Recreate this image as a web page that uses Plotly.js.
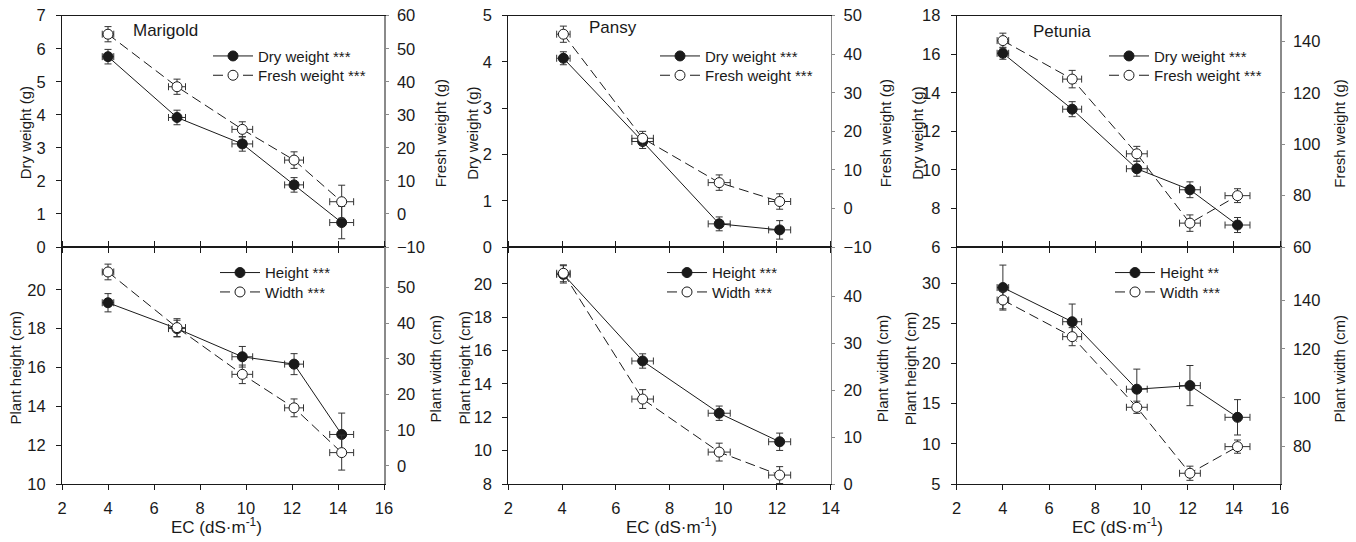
<!DOCTYPE html>
<html><head><meta charset="utf-8">
<script src="https://cdn.plot.ly/plotly-3.0.1.min.js"></script>
<style>html,body{margin:0;padding:0;background:#fff}#chart{width:1356px;height:542px}</style>
</head><body><div id="chart"></div>
<script>
// ---------- DATA ----------
const species = ['Marigold', 'Pansy', 'Petunia'];

const ecMarigold      = [4.0, 7.0, 9.84, 12.09, 14.16];
const ecMarigoldErr   = [0.25, 0.37, 0.45, 0.41, 0.52];
const dryMarigold     = [5.76, 3.92, 3.12, 1.88, 0.74];
const dryMarigoldErr  = [0.22, 0.22, 0.22, 0.22, 0.49];
const freshMarigold   = [54.4, 38.5, 25.6, 16.3, 3.7];
const freshMarigoldErr= [2.3, 2.3, 2.3, 2.5, 5.0];
const heightMarigold  = [19.33, 18.0, 16.55, 16.17, 12.55];
const heightMarigoldErr=[0.47, 0.43, 0.53, 0.54, 1.1];
const widthMarigold   = [54.4, 38.8, 25.7, 16.3, 3.75];
const widthMarigoldErr= [2.2, 2.5, 2.6, 2.5, 4.9];

const ecPansy         = [4.05, 7.0, 9.85, 12.1];
const ecPansyErr      = [0.25, 0.40, 0.41, 0.41];
const dryPansy        = [4.08, 2.28, 0.50, 0.37];
const dryPansyErr     = [0.14, 0.15, 0.15, 0.20];
const freshPansy      = [45.2, 18.2, 6.7, 1.8];
const freshPansyErr   = [2.1, 1.8, 2.0, 2.0];
const heightPansy     = [20.56, 15.37, 12.24, 10.53];
const heightPansyErr  = [0.52, 0.43, 0.43, 0.52];
const widthPansy      = [44.9, 18.1, 6.8, 1.9];
const widthPansyErr   = [1.8, 2.0, 1.9, 1.8];

const ecPetunia       = [4.0, 7.0, 9.8, 12.1, 14.16];
const ecPetuniaErr    = [0.25, 0.41, 0.45, 0.45, 0.54];
const dryPetunia      = [16.05, 13.15, 10.06, 8.97, 7.14];
const dryPetuniaErr   = [0.31, 0.39, 0.39, 0.41, 0.39];
const freshPetunia    = [140.4, 125.4, 96.3, 69.3, 80.0];
const freshPetuniaErr = [2.9, 3.4, 2.9, 3.2, 2.7];
const heightPetunia   = [29.45, 25.2, 16.8, 17.25, 13.3];
const heightPetuniaErr= [2.8, 2.2, 2.5, 2.5, 2.2];
const widthPetunia    = [140.0, 125.0, 96.1, 69.1, 80.0];
const widthPetuniaErr = [3.6, 3.7, 2.5, 2.9, 2.7];

const legendTop    = ['Dry weight ***', 'Fresh weight ***'];
const legendBottom = [['Height ***', 'Width ***'], ['Height ***', 'Width ***'], ['Height **', 'Width ***']];

const xTicks = [2, 4, 6, 8, 10, 12, 14, 16];
const xTicksPansy = [2, 4, 6, 8, 10, 12, 14];
const tickDryMarigold    = [0, 1, 2, 3, 4, 5, 6, 7];
const tickFreshMarigold  = [-10, 0, 10, 20, 30, 40, 50, 60];
const tickHeightMarigold = [10, 12, 14, 16, 18, 20];
const tickWidthMarigold  = [0, 10, 20, 30, 40, 50];
const tickDryPansy       = [0, 1, 2, 3, 4, 5];
const tickFreshPansy     = [-10, 0, 10, 20, 30, 40, 50];
const tickHeightPansy    = [8, 10, 12, 14, 16, 18, 20];
const tickWidthPansy     = [0, 10, 20, 30, 40];
const tickDryPetunia     = [6, 8, 10, 12, 14, 16, 18];
const tickFreshPetunia   = [60, 80, 100, 120, 140];
const tickHeightPetunia  = [5, 10, 15, 20, 25, 30];
const tickWidthPetunia   = [80, 100, 120, 140];

// ---------- LAYOUT HELPERS ----------
const W = 1356, H = 542;
const px = v => v / W;
const py = v => 1 - v / H;
const FONT = 'Liberation Sans, Arial, sans-serif';
const INK = '#1a1a1a';
const TICK_SIZE = 16.5;

const geo = [
  {l: 62,    r: 384,   xr: [2, 16], xt: xTicks,
   top: {yl: [0, 7], yr: [-10, 60], tl: tickDryMarigold, tr: tickFreshMarigold},
   bot: {yl: [10, 22.2], yr: [-5.05, 61.4], tl: tickHeightMarigold, tr: tickWidthMarigold},
   ttl: {lt: 25, rt: 440, lb: 15, rb: 435}, ecx: 216,
   lab: {x: 131, y: 30}, legT: 208, legB: 215},
  {l: 508.3, r: 830.7, xr: [2, 14], xt: xTicksPansy,
   top: {yl: [0, 5], yr: [-10, 50], tl: tickDryPansy, tr: tickFreshPansy},
   bot: {yl: [8, 22.2], yr: [0, 50.5], tl: tickHeightPansy, tr: tickWidthPansy},
   ttl: {lt: 472.5, rt: 885, lb: 464, rb: 882.7}, ecx: 671,
   lab: {x: 587, y: 28}, legT: 655, legB: 662},
  {l: 956.7, r: 1280,  xr: [2, 16], xt: xTicks,
   top: {yl: [6, 18], yr: [60, 150.1], tl: tickDryPetunia, tr: tickFreshPetunia},
   bot: {yl: [5, 34.5], yr: [64.7, 161.7], tl: tickHeightPetunia, tr: tickWidthPetunia},
   ttl: {lt: 917.3, rt: 1339.3, lb: 910.7, rb: 1339}, ecx: 1117,
   lab: {x: 1031, y: 32}, legT: 1104, legB: 1110}
];
const Y_TOP = 15.7, Y_MID = 247, Y_BOT = 484;
const LEG_ROWS_TOP = [56.7, 76];
const LEG_ROWS_BOT = [273.3, 292.7];
const LEG_OFFSET = 17;   // legend top -> row centre

const seriesData = [
  {x: ecMarigold, xe: ecMarigoldErr,
   a: [dryMarigold, dryMarigoldErr], b: [freshMarigold, freshMarigoldErr],
   c: [heightMarigold, heightMarigoldErr], d: [widthMarigold, widthMarigoldErr]},
  {x: ecPansy, xe: ecPansyErr,
   a: [dryPansy, dryPansyErr], b: [freshPansy, freshPansyErr],
   c: [heightPansy, heightPansyErr], d: [widthPansy, widthPansyErr]},
  {x: ecPetunia, xe: ecPetuniaErr,
   a: [dryPetunia, dryPetuniaErr], b: [freshPetunia, freshPetuniaErr],
   c: [heightPetunia, heightPetuniaErr], d: [widthPetunia, widthPetuniaErr]}
];

const traces = [];
const layout = {
  width: W, height: H, margin: {l: 0, r: 0, t: 0, b: 0},
  paper_bgcolor: '#fff', plot_bgcolor: 'rgba(0,0,0,0)',
  font: {family: FONT, size: 15, color: INK},
  annotations: [], showlegend: true
};

function mkTrace(xv, xe, yv, ye, xa, ya, name, filled, legendId) {
  return {
    type: 'scatter', mode: 'lines+markers', x: xv, y: yv, xaxis: xa, yaxis: ya,
    name: name, legend: legendId, showlegend: true,
    line: {color: INK, width: 1, dash: filled ? 'solid' : '10px,5px'},
    marker: {size: 10, color: filled ? INK : '#fff', line: {color: INK, width: 1}},
    error_x: {type: 'data', array: xe, visible: true, color: '#333', thickness: 1, width: 3.5},
    error_y: {type: 'data', array: ye, visible: true, color: '#333', thickness: 1, width: 3.5},
    cliponaxis: false
  };
}

function yAxis(range, tickvals, domain, anchor, right, overlay) {
  const ax = {
    range: range, domain: domain, anchor: anchor, tickvals: tickvals,
    showline: true, linecolor: right ? '#8a8a8a' : INK, linewidth: right ? 1.6 : 1,
    ticks: 'outside', ticklen: right ? 3 : 5, tickcolor: right ? '#8a8a8a' : INK, tickwidth: 1,
    showgrid: false, zeroline: false, automargin: false, fixedrange: true,
    tickfont: {family: FONT, size: TICK_SIZE, color: INK}, ticklabelstandoff: right ? 5 : 7
  };
  if (right) { ax.side = 'right'; ax.overlaying = overlay; }
  return ax;
}

let legCount = 0;
function mkLegend(xpx, rowpx) {
  legCount++;
  const id = legCount === 1 ? 'legend' : 'legend' + legCount;
  layout[id] = {
    x: px(xpx), y: py(rowpx - LEG_OFFSET), xanchor: 'left', yanchor: 'top',
    bgcolor: 'rgba(0,0,0,0)', borderwidth: 0, itemwidth: 40,
    font: {family: FONT, size: 15, color: INK}
  };
  return id;
}

geo.forEach((g, p) => {
  const sd = seriesData[p];
  const xdom = [px(g.l), px(g.r)];
  for (let row = 0; row < 2; row++) {
    const k = 2 * p + row;               // subplot index 0..5
    const xid = k === 0 ? 'x' : 'x' + (k + 1);
    const xkey = k === 0 ? 'xaxis' : 'xaxis' + (k + 1);
    const ylid = k === 0 ? 'y' : 'y' + (2 * k + 1);
    const ylkey = k === 0 ? 'yaxis' : 'yaxis' + (2 * k + 1);
    const yrid = 'y' + (2 * k + 2);
    const yrkey = 'yaxis' + (2 * k + 2);
    const ydom = row === 0 ? [py(Y_MID), py(Y_TOP)] : [py(Y_BOT), py(Y_MID)];
    const cfg = row === 0 ? g.top : g.bot;

    layout[xkey] = {
      range: g.xr, domain: xdom, anchor: ylid, tickvals: g.xt,
      showline: true, linecolor: INK, linewidth: 1,
      mirror: row === 0 ? true : 'ticks',
      ticks: 'outside', ticklen: 5, tickcolor: INK, tickwidth: 1,
      showticklabels: row === 1, showgrid: false, zeroline: false,
      automargin: false, fixedrange: true,
      tickfont: {family: FONT, size: TICK_SIZE, color: INK}, ticklabelstandoff: 4
    };
    layout[ylkey] = yAxis(cfg.yl, cfg.tl, ydom, xid, false);
    layout[yrkey] = yAxis(cfg.yr, cfg.tr, ydom, xid, true, ylid);

    const names = row === 0 ? legendTop : legendBottom[p];
    const s1 = row === 0 ? sd.a : sd.c;
    const s2 = row === 0 ? sd.b : sd.d;
    const rows = row === 0 ? LEG_ROWS_TOP : LEG_ROWS_BOT;
    const lx = row === 0 ? g.legT : g.legB;
    traces.push(mkTrace(sd.x, sd.xe, s1[0], s1[1], xid, ylid, names[0], true, mkLegend(lx, rows[0])));
    traces.push(mkTrace(sd.x, sd.xe, s2[0], s2[1], xid, yrid, names[1], false, mkLegend(lx, rows[1])));

    // axis titles
    const yc = row === 0 ? (Y_TOP + Y_MID) / 2 + 2 : (Y_MID + Y_BOT) / 2 + 3;
    const lt = row === 0 ? 'Dry weight (g)' : 'Plant height (cm)';
    const rt = row === 0 ? 'Fresh weight (g)' : 'Plant width (cm)';
    layout.annotations.push({xref: 'paper', yref: 'paper', x: px(row === 0 ? g.ttl.lt : g.ttl.lb), y: py(yc),
      text: lt, textangle: -90, showarrow: false, xanchor: 'center', yanchor: 'middle',
      font: {family: FONT, size: 15, color: INK}});
    layout.annotations.push({xref: 'paper', yref: 'paper', x: px(row === 0 ? g.ttl.rt : g.ttl.rb), y: py(yc),
      text: rt, textangle: -90, showarrow: false, xanchor: 'center', yanchor: 'middle',
      font: {family: FONT, size: 15, color: INK}});
  }
  // species label
  layout.annotations.push({xref: 'paper', yref: 'paper', x: px(g.lab.x), y: py(g.lab.y),
    text: species[p], showarrow: false, xanchor: 'left', yanchor: 'middle',
    font: {family: FONT, size: 17, color: INK}});
  // x title
  layout.annotations.push({xref: 'paper', yref: 'paper', x: px(g.ecx), y: py(526),
    text: 'EC (dS·m<sup>-1</sup>)', showarrow: false, xanchor: 'center', yanchor: 'middle',
    font: {family: FONT, size: 17, color: INK}});
});

Plotly.newPlot('chart', traces, layout, {displayModeBar: false, staticPlot: true});
</script>
</body></html>
